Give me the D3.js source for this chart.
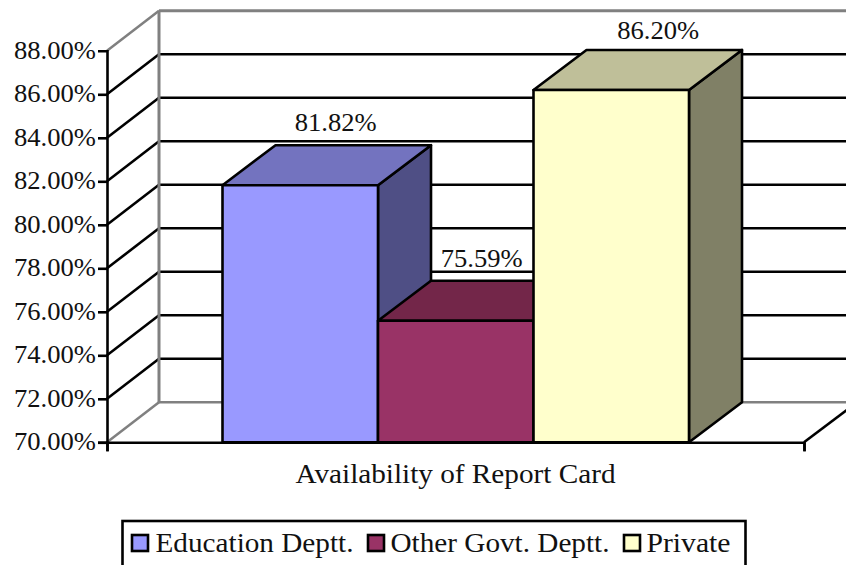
<!DOCTYPE html>
<html><head><meta charset="utf-8">
<script src="https://cdn.jsdelivr.net/npm/d3@7"></script>
<style>html,body{margin:0;padding:0;background:#fff;overflow:hidden}svg{display:block}
text{font-family:"Liberation Serif",serif;fill:#111}</style></head>
<body><svg id="c" width="846" height="565"></svg>
<script>
const seriesNames=["Education Deptt.","Other Govt. Deptt.","Private"];
const seriesValues=[81.82,75.59,86.20];
const valueLabels=["81.82%","75.59%","86.20%"];
const categoryName="Availability of Report Card";
const frontColors=["#9999ff","#993366","#ffffcc"];
const topColors=["#7373bf","#732649","#bfbf99"];
const sideColors=["#4f4f85","#732649","#808066"];
const yTicks=[70,72,74,76,78,80,82,84,86,88];

const W=846,H=565,dx=53,wallDx=52,dy=40;
const svg=d3.select("#c");
const y=d3.scaleLinear().domain([70,88]).range([442.3,50.8]);
const xOuter=d3.scaleLinear().domain([0,1]).range([107,804]);
const x=d3.scaleBand().domain(seriesNames).range([222.5,689]);
const poly=p=>p.map(a=>a.join(",")).join(" ");
const SW=2.6;

// back wall and floor
const x0=xOuter(0),x1=xOuter(1);
svg.append("line").attr("x1",x0+wallDx).attr("x2",W).attr("y1",y(88)-dy).attr("y2",y(88)-dy).attr("stroke","#808080").attr("stroke-width",3);
svg.append("line").attr("x1",x0).attr("x2",x0+wallDx).attr("y1",y(88)).attr("y2",y(88)-dy).attr("stroke","#808080").attr("stroke-width",2.5);
svg.append("line").attr("x1",x0).attr("x2",x0+wallDx).attr("y1",y(70)).attr("y2",y(70)-dy).attr("stroke","#808080").attr("stroke-width",2.5);
svg.append("line").attr("x1",x0+wallDx).attr("x2",W).attr("y1",y(70)-dy).attr("y2",y(70)-dy).attr("stroke","#808080").attr("stroke-width",2.5);
svg.append("line").attr("x1",x1).attr("x2",x1+dx).attr("y1",y(70)).attr("y2",y(70)-dy).attr("stroke","#000").attr("stroke-width",SW);

// gridlines
yTicks.filter(t=>t>70&&t<88).forEach(t=>{
  svg.append("polyline").attr("fill","none").attr("stroke","#000").attr("stroke-width",SW)
    .attr("points",poly([[x0,y(t)],[x0+wallDx,y(t)-dy]]));
  svg.append("line").attr("x1",x0+wallDx+1).attr("x2",W).attr("y1",y(t)-dy).attr("y2",y(t)-dy).attr("stroke","#000").attr("stroke-width",SW);
});
svg.append("line").attr("x1",x0+wallDx).attr("x2",x0+wallDx).attr("y1",y(88)-dy).attr("y2",y(70)-dy).attr("stroke","#808080").attr("stroke-width",3);

// y axis
const yAxis=d3.axisLeft(y).tickValues(yTicks).tickSize(9).tickPadding(2).tickFormat(d=>d3.format(".2f")(d)+"%");
const gy=svg.append("g").attr("transform",`translate(${x0},0)`).call(yAxis);
gy.selectAll("path").attr("stroke","#000").attr("stroke-width",SW);
gy.selectAll(".tick line").attr("stroke","#000").attr("stroke-width",SW)
  .filter(d=>d===88).remove();
gy.selectAll("text").attr("font-size",26).attr("font-family","Liberation Serif").attr("fill","#111").attr("y",-1).attr("textLength",82).attr("lengthAdjust","spacingAndGlyphs");

// x axis
const xAxis=d3.axisBottom(xOuter).tickValues([0,1]).tickSize(9).tickFormat("");
const gx=svg.append("g").attr("transform",`translate(0,${y(70)})`).call(xAxis);
gx.selectAll("path").attr("stroke","#000").attr("stroke-width",SW);
gx.selectAll(".tick line").attr("stroke","#000").attr("stroke-width",SW);

// bars
const bw=x.bandwidth();
const labelShiftX=[35.5,26,47],labelShiftY=[-14,-14,-11];
seriesNames.forEach((n,i)=>{
  const l=x(n),r=l+bw,t=y(seriesValues[i]),b=y(70);
  const g=svg.append("g").attr("stroke","#000").attr("stroke-width",SW).attr("stroke-linejoin","round");
  g.append("polygon").attr("points",poly([[r,t],[r+dx,t-dy],[r+dx,b-dy],[r,b]])).attr("fill",sideColors[i]);
  g.append("polygon").attr("points",poly([[l,t],[l+dx,t-dy],[r+dx,t-dy],[r,t]])).attr("fill",topColors[i]);
  g.append("rect").attr("x",l).attr("y",t).attr("width",bw).attr("height",b-t).attr("fill",frontColors[i]);
  svg.append("text").attr("x",l+bw/2+labelShiftX[i]).attr("y",t-dy+labelShiftY[i]).attr("text-anchor","middle")
    .attr("font-size",26).attr("textLength",82).attr("lengthAdjust","spacingAndGlyphs").text(valueLabels[i]);
});

// category label
svg.append("text").attr("x",455.5).attr("y",483).attr("text-anchor","middle").attr("font-size",27)
  .attr("textLength",320).attr("lengthAdjust","spacingAndGlyphs").text(categoryName);

// legend
svg.append("rect").attr("x",122.5).attr("y",521).attr("width",623).attr("height",60).attr("fill","#fff").attr("stroke","#000").attr("stroke-width",SW);
const swX=[132,368,624],txX=[155.5,390.5,646.5],txW=[198,219,84];
seriesNames.forEach((n,i)=>{
  svg.append("rect").attr("x",swX[i]).attr("y",535).attr("width",16).attr("height",16).attr("fill",frontColors[i]).attr("stroke","#000").attr("stroke-width",SW);
  svg.append("text").attr("x",txX[i]).attr("y",552).attr("font-size",27).attr("textLength",txW[i]).attr("lengthAdjust","spacingAndGlyphs").text(n);
});
</script></body></html>
